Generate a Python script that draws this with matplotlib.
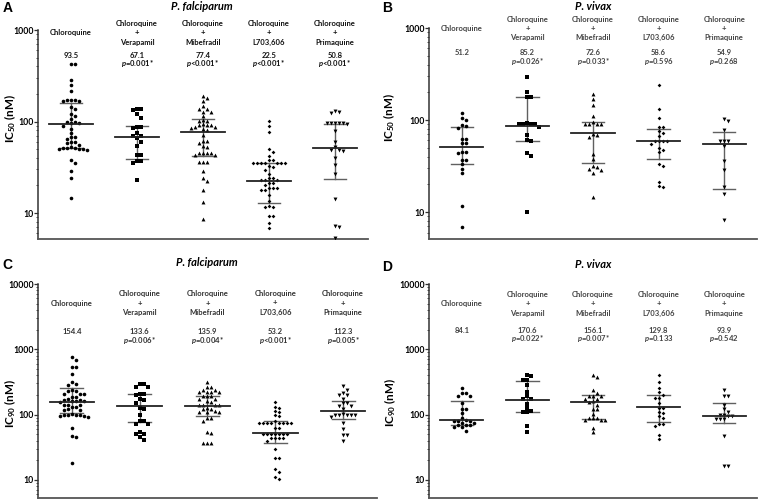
import numpy as np
import matplotlib
matplotlib.use("Agg")
import matplotlib.pyplot as plt
from matplotlib.ticker import FixedLocator, LogLocator, NullFormatter

plt.rcParams['font.family'] = ['Lato', 'DejaVu Sans']
plt.rcParams['mathtext.fontset'] = 'custom'
plt.rcParams['mathtext.it'] = 'Lato:italic:bold'
plt.rcParams['mathtext.rm'] = 'Lato:bold'
plt.rcParams['mathtext.bf'] = 'Lato:bold'

groups = ["Chloroquine", "Chloroquine\n+\nVerapamil", "Chloroquine\n+\nMibefradil",
          "Chloroquine\n+\nL703,606", "Chloroquine\n+\nPrimaquine"]

# --- A: P. falciparum IC50 ---
A_cq = [430, 420, 284, 253, 217, 170, 170, 168, 172, 166, 143, 138, 121, 116, 107, 98, 97, 99, 96,
        90, 83, 75, 67, 68, 65, 59, 58, 60, 56, 51, 50, 52, 50, 51, 49, 50, 51, 38, 35.5, 28.7, 24.2, 14.5]
A_vp = [138, 138, 134, 121, 110, 87, 87, 86, 75, 70, 70, 66, 60, 54, 43.5, 43.5, 37, 36.7, 35.5, 23]
A_mb = [188, 181, 169, 149, 138, 136, 128, 126, 116, 102, 101, 103, 92, 93, 91, 92, 87, 86, 88, 82, 81,
        72, 62, 61, 58.7, 54, 53, 45.6, 45.5, 45.7, 45.4, 43.5, 43.4, 36.2, 36, 36.4, 28.7, 24.2, 22.3,
        17.8, 13.3, 8.6]
A_l7 = [101, 89, 76, 50, 47, 42, 38, 37.5, 35, 35.3, 34.8, 35.1, 34.9, 35.2, 35, 32.4, 32, 29.8, 26.8,
        24.2, 24, 22.9, 23, 22.8, 21.4, 21.2, 20.2, 18.9, 19, 18.8, 17.8, 17.7, 15.7, 13.6, 11.7, 11.6,
        11.8, 9.3, 9.2, 7.7, 6.9]
A_pq = [126, 124, 130, 97, 96, 97, 96.5, 96.8, 95, 78, 59.6, 52.6, 48.4, 48, 48.6, 40, 33.2, 26.5,
        14.2, 7.3, 7.1, 5.4]
A_med = [93.5, 67.1, 77.4, 22.5, 50.8]
A_q1 = [51, 39, 42, 12.9, 23.3]
A_q3 = [158, 89, 107, 35, 95]
A_p = ["", "=0.001*", "<0.001*", "<0.001*", "<0.001*"]

# --- B: P. vivax IC50 ---
B_cq = [119, 106, 99, 88, 87, 81, 63, 62, 56.5, 56, 45, 43.9, 45.5, 36.6, 36.8, 32.9, 29.2, 26.3, 11.7, 6.9]
B_vp = [292, 204, 178, 176, 91.5, 91, 90, 92, 90.5, 85, 68.3, 60, 59.5, 43.9, 40.8, 10.1]
B_mb = [193, 170, 144, 112, 95.2, 91.4, 91, 91.6, 91.2, 70, 69, 65.4, 43.3, 37.3, 31.5, 31.2, 29, 29.3,
        26.7, 14.6]
B_l7 = [238, 133, 106, 84, 83, 76, 72.3, 66.5, 59, 59.3, 58.8, 59.1, 55.5, 50.2, 47, 45, 33.7, 31.5,
        21.4, 18.8, 19]
B_pq = [103.5, 98, 78.7, 59, 58.5, 59.5, 52, 36, 29, 18.8, 15.6, 8.2]
B_med = [51.2, 85.2, 72.6, 58.6, 54.9]
B_q1 = [33.6, 59, 34, 37.3, 18]
B_q3 = [85, 177, 95, 80.5, 74]
B_p = ["", "=0.026*", "=0.033*", "=0.596", "=0.268"]

# --- C: P. falciparum IC90 ---
C_cq = [757, 697, 531, 528, 421, 317, 289, 290, 234, 233, 236, 208, 207, 210, 184, 185, 170, 171, 169,
        160, 159, 161, 162, 142, 141, 143, 129, 130, 119, 118, 120, 100, 99, 101, 100.5, 99.5, 94, 93.5,
        94.5, 62.5, 46.5, 46, 18.5]
C_vp = [296, 295, 262, 263, 208, 207, 198, 170, 171, 151, 124, 125, 100, 81, 80, 72, 72.5, 54, 50.5,
        50, 46, 40.9]
C_mb = [313, 266, 265, 242, 241, 220, 221, 219, 222, 191, 190, 192, 176, 175, 160, 159, 142, 141,
        143, 140, 124, 123, 125, 110, 109, 111, 112, 89, 88, 81, 53.5, 53, 36.7, 36.5, 36.9]
C_l7 = [154.5, 129, 128, 112, 111, 97.5, 97, 79, 74.6, 74.5, 74.7, 74.4, 74.8, 74.6, 74.5, 74.7, 62.5,
        62, 51, 51.2, 50.8, 51.1, 50.9, 51, 50.7, 43.9, 44, 43.8, 44.1, 40, 30.2, 21.7, 21.6, 14.7, 13.2,
        11.3, 10.4]
C_pq = [272, 242, 215, 198, 197, 176, 151, 150, 137, 136, 120, 100, 99.5, 100.5, 99, 101, 100, 91,
        74.6, 61, 49.4, 49, 40]
C_med = [154.4, 133.6, 135.9, 53.2, 112.3]
C_q1 = [106, 77, 96.5, 36.7, 86]
C_q3 = [257, 208, 196, 79, 160]
C_p = ["", "=0.006*", "=0.004*", "<0.001*", "=0.005*"]

# --- D: P. vivax IC90 ---
D_cq = [257, 215, 214, 191, 190, 151, 122, 121, 106, 89, 81, 81.5, 80.5, 81.2, 74.6, 74, 69.4, 69,
        69.8, 64.6, 64, 56.8]
D_vp = [411, 387, 344, 345, 289, 220, 191, 174, 173, 148, 127, 112, 111, 108, 66, 53.5]
D_mb = [411, 379, 242, 215, 191, 190, 192, 174, 175, 160, 159, 142, 122, 121, 104, 88, 87.5, 88.5,
        82, 81.5, 82.5, 62.5, 53.5]
D_l7 = [411, 313, 257, 220, 202, 180, 181, 151, 127, 126, 108, 107, 94, 89, 72.7, 72.5, 66, 49.4, 42.4]
D_pq = [236, 191, 190, 142, 122, 108, 100, 99.5, 94, 94.5, 86, 85.5, 86.5, 47.6, 16.5, 16.4]
D_med = [84.1, 170.6, 156.1, 129.8, 93.9]
D_q1 = [69.4, 108, 86, 77, 74.6]
D_q3 = [160, 324, 198, 202, 151]
D_p = ["", "=0.022*", "=0.007*", "=0.133", "=0.542"]

markers = ['o', 's', '^', 'D', 'v']
msizes = [2.6, 2.6, 2.8, 1.9, 2.8]

fig = plt.figure(figsize=(7.6, 5.0), dpi=100)


def swarm_x(ax, center, vals, d=4.0):
    # simple beeswarm in pixel space
    pts = ax.transData.transform(np.column_stack([np.full(len(vals), center), vals]))
    x0 = pts[0, 0]
    ys = pts[:, 1]
    xs = np.zeros(len(vals))
    placed = []
    for i in np.argsort(-ys):
        y = ys[i]
        for k in range(60):
            off = ((k + 1) // 2) * d * (1 if k % 2 else -1)
            ok = all((px - (x0 + off)) ** 2 + (py - y) ** 2 >= (d * 0.95) ** 2 for px, py in placed)
            if ok:
                break
        placed.append((x0 + off, y))
        xs[i] = x0 + off
    back = ax.transData.inverted().transform(np.column_stack([xs, ys]))
    return back[:, 0]


def panel(rect, ylim, letter, lpos, title, tpos, ylab, ylpos, data, med, q1, q3, pv,
          ty, my, py, tcol):
    ax = fig.add_axes(rect)
    ax.set_yscale('log')
    ax.set_xlim(-0.5, 4.5)
    ax.set_ylim(*ylim)
    for s in ['top', 'right']:
        ax.spines[s].set_visible(False)
    ax.spines['left'].set_linewidth(1.1)
    ax.spines['bottom'].set_linewidth(1.3)
    ax.spines['left'].set_color('#333333')
    ax.spines['bottom'].set_color('#555555')
    ax.set_xticks([])
    majors = [10 ** k for k in range(1, int(np.log10(ylim[1])) + 1)]
    ax.yaxis.set_major_locator(FixedLocator(majors))
    ax.set_yticklabels([str(m) for m in majors], fontsize=6.3, fontweight='bold')
    ax.yaxis.set_minor_locator(LogLocator(base=10, subs=np.arange(2, 10)))
    ax.yaxis.set_minor_formatter(NullFormatter())
    ax.tick_params(axis='y', which='major', length=2.6, width=0.9, pad=0.5, color='#333333')
    ax.tick_params(axis='y', which='minor', length=1.5, width=0.6, color='#333333')

    for i, vals in enumerate(data):
        xs = swarm_x(ax, i, vals)
        ax.plot(xs, vals, linestyle='none', marker=markers[i], ms=msizes[i],
                color='black', markeredgewidth=0, zorder=3)
        ax.plot([i, i], [q1[i], q3[i]], color='#606060', lw=1.0, zorder=2)
        ax.plot([i - 0.17, i + 0.17], [q3[i], q3[i]], color='#606060', lw=1.0, zorder=2)
        ax.plot([i - 0.17, i + 0.17], [q1[i], q1[i]], color='#606060', lw=1.0, zorder=2)
        ax.plot([i - 0.33, i + 0.33], [med[i], med[i]], color='#222222', lw=1.3, zorder=4)
        ax.text(i, ty, groups[i], transform=ax.get_xaxis_transform(), ha='center', va='center',
                fontsize=5.5, fontweight='bold', linespacing=1.35, color=tcol)
        ax.text(i, my, f"{med[i]:.1f}", transform=ax.get_xaxis_transform(), ha='center',
                va='center', fontsize=5.5, fontweight='bold', color=tcol)
        if pv[i]:
            ax.text(i, py, "$p$" + pv[i], transform=ax.get_xaxis_transform(), ha='center',
                    va='center', fontsize=5.5, fontweight='bold', color=tcol)

    fig.text(lpos[0], lpos[1], letter, fontsize=10, fontweight='bold', ha='left', va='center',
             family=['Liberation Sans', 'DejaVu Sans'])
    fig.text(tpos[0], tpos[1], title, fontsize=8, fontweight='bold', style='italic',
             ha='center', va='center')
    fig.text(ylpos[0], ylpos[1], ylab, fontsize=8.4, fontweight='bold', rotation=90,
             ha='center', va='center')
    return ax


panel([0.050, 0.522, 0.434, 0.418], (5.2, 1000), "A", (0.003, 0.984), "P. falciparum", (0.266, 0.986),
      r"IC$_{\mathbf{50}}$ (nM)", (0.0135, 0.764),
      [A_cq, A_vp, A_mb, A_l7, A_pq], A_med, A_q1, A_q3, A_p, 0.986, 0.880, 0.842, '#111111')
panel([0.5645, 0.522, 0.4316, 0.422], (5.1, 1000), "B", (0.503, 0.984), "P. vivax", (0.780, 0.986),
      r"IC$_{\mathbf{50}}$ (nM)", (0.5115, 0.766),
      [B_cq, B_vp, B_mb, B_l7, B_pq], B_med, B_q1, B_q3, B_p, 0.998, 0.886, 0.839, '#444444')
panel([0.050, 0.004, 0.446, 0.428], (5.3, 10000), "C", (0.003, 0.470), "P. falciparum", (0.272, 0.474),
      r"IC$_{\mathbf{90}}$ (nM)", (0.0135, 0.194),
      [C_cq, C_vp, C_mb, C_l7, C_pq], C_med, C_q1, C_q3, C_p, 0.911, 0.776, 0.734, '#333333')
panel([0.5645, 0.004, 0.4316, 0.428], (5.3, 10000), "D", (0.503, 0.466), "P. vivax", (0.780, 0.470),
      r"IC$_{\mathbf{90}}$ (nM)", (0.5135, 0.196),
      [D_cq, D_vp, D_mb, D_l7, D_pq], D_med, D_q1, D_q3, D_p, 0.907, 0.785, 0.743, '#444444')

fig.savefig("out.png", dpi=100)
